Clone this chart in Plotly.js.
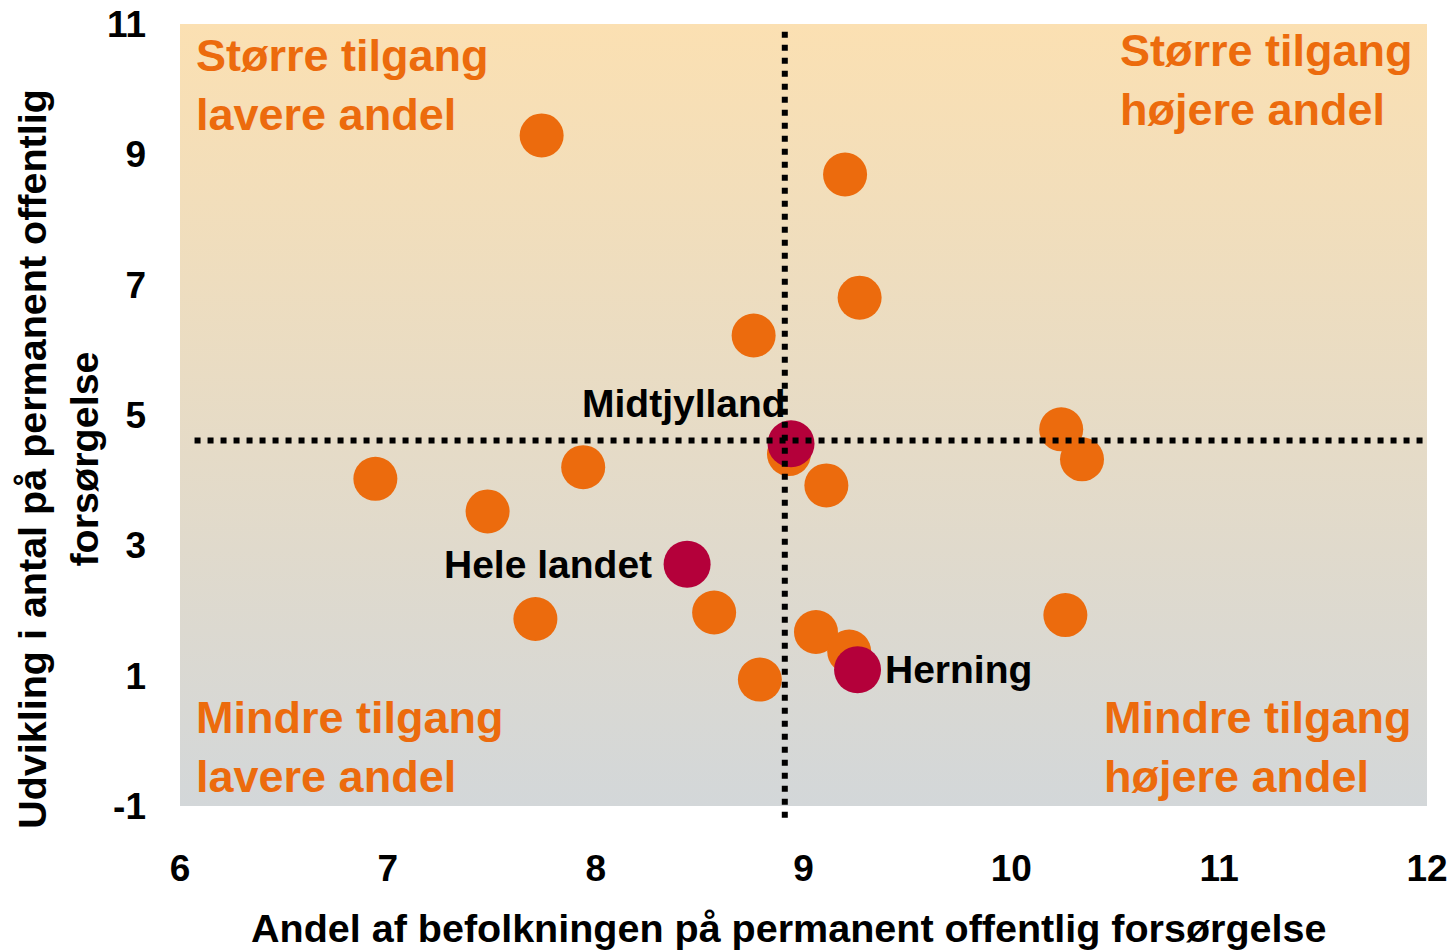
<!DOCTYPE html>
<html>
<head>
<meta charset="utf-8">
<script src="https://cdn.plot.ly/plotly-3.0.1.min.js"></script>
<style>html,body{margin:0;padding:0;background:#fff;}#chart{width:1453px;height:950px;}</style>
</head>
<body>
<div id="chart"></div>
<script>
// ---- data ----
var xRange = [6, 12];
var yRange = [-1, 11];
var xTicks = [6, 7, 8, 9, 10, 11, 12];
var xTickLabels = ["6", "7", "8", "9", "10", "11", "12"];
var yTicks = [-1, 1, 3, 5, 7, 9, 11];
var yTickLabels = ["-1", "1", "3", "5", "7", "9", "11"];

var municipalityX = [7.74, 9.20, 9.27, 8.76, 7.94, 8.93, 9.11, 10.24, 10.34, 6.94, 7.48, 8.57, 7.71, 9.06, 9.22, 8.79, 10.26];
var municipalityY = [9.29, 8.69, 6.80, 6.22, 4.20, 4.40, 3.92, 4.78, 4.32, 4.02, 3.52, 1.97, 1.87, 1.67, 1.37, 0.94, 1.93];

var highlightNames = ["Midtjylland", "Hele landet", "Herning"];
var highlightX = [8.94, 8.44, 9.26];
var highlightY = [4.56, 2.71, 1.09];

var refX = 8.91;   // vertical reference line (Midtjylland share)
var refY = 4.61;   // horizontal reference line (Midtjylland development)

var quadrantTexts = ["Større tilgang<br>lavere andel", "Større tilgang<br>højere andel",
                     "Mindre tilgang<br>lavere andel", "Mindre tilgang<br>højere andel"];

var xTitle = "Andel af befolkningen på permanent offentlig forsørgelse";
var yTitle = "Udvikling i antal på permanent offentlig<br>forsørgelse";

// ---- styles ----
var FONT = "Liberation Sans, Arial, Helvetica, sans-serif";
var ORANGE = "#EC6B0D";
var RED = "#B4003A";
var TOP_BG = "#FBE0B2";
var BOTTOM_BG = "#D3D7D9";

var traces = [
  {
    type: "scatter",
    x: [xRange[0], xRange[1], xRange[1], xRange[0], xRange[0]],
    y: [yRange[0], yRange[0], yRange[1], yRange[1], yRange[0]],
    mode: "none",
    fill: "toself",
    fillgradient: {type: "vertical", colorscale: [[0, BOTTOM_BG], [1, TOP_BG]]},
    hoverinfo: "skip",
    showlegend: false
  },
  {
    type: "scatter",
    x: municipalityX,
    y: municipalityY,
    mode: "markers",
    marker: {color: ORANGE, size: 44, line: {width: 0}},
    showlegend: false,
    cliponaxis: false
  },
  {
    type: "scatter",
    x: highlightX,
    y: highlightY,
    text: highlightNames,
    mode: "markers",
    marker: {color: RED, size: 47, line: {width: 0}},
    showlegend: false,
    cliponaxis: false
  }
];

var labelFont = {family: FONT, size: 39, color: "#000", weight: 700};
var quadFont = {family: FONT, size: 45, color: ORANGE, weight: 700};

var annotations = [
  {x: highlightX[0], y: highlightY[0], xref: "x", yref: "y", text: highlightNames[0], showarrow: false,
   xanchor: "right", yanchor: "middle", xshift: -4, yshift: 40, font: labelFont, borderpad: 0},
  {x: highlightX[1], y: highlightY[1], xref: "x", yref: "y", text: highlightNames[1], showarrow: false,
   xanchor: "right", yanchor: "middle", xshift: -34, yshift: 0, font: labelFont, borderpad: 0},
  {x: highlightX[2], y: highlightY[2], xref: "x", yref: "y", text: highlightNames[2], showarrow: false,
   xanchor: "left", yanchor: "middle", xshift: 26, yshift: 0, font: labelFont, borderpad: 0},

  {x: 0.012, y: 1, xref: "paper", yref: "paper", text: quadrantTexts[0], showarrow: false, align: "left",
   xanchor: "left", yanchor: "top", yshift: -5, font: quadFont, borderpad: 0},
  {x: 0.753, y: 1, xref: "paper", yref: "paper", text: quadrantTexts[1], showarrow: false, align: "left",
   xanchor: "left", yanchor: "top", yshift: 0, font: quadFont, borderpad: 0},
  {x: 0.012, y: 0, xref: "paper", yref: "paper", text: quadrantTexts[2], showarrow: false, align: "left",
   xanchor: "left", yanchor: "bottom", yshift: 3, font: quadFont, borderpad: 0},
  {x: 0.740, y: 0, xref: "paper", yref: "paper", text: quadrantTexts[3], showarrow: false, align: "left",
   xanchor: "left", yanchor: "bottom", yshift: 3, font: quadFont, borderpad: 0},

  {x: 0.4876, y: 0, xref: "paper", yref: "paper", text: xTitle, showarrow: false,
   xanchor: "center", yanchor: "middle", yshift: -122, font: {family: FONT, size: 39.5, color: "#000", weight: 700}},
  {x: 0, y: 0.444, xref: "paper", yref: "paper", text: yTitle, showarrow: false, textangle: -90,
   xanchor: "center", yanchor: "middle", xshift: -122, font: {family: FONT, size: 39.5, color: "#000", weight: 700}}
];

var dotLine = {color: "#000", width: 6, dash: "6px,7px"};
var shapes = [
  {type: "line", layer: "above", xref: "x", yref: "y", x0: xRange[0] + 0.07, x1: xRange[1], y0: refY, y1: refY, line: dotLine},
  {type: "line", layer: "above", xref: "x", yref: "paper", x0: refX, x1: refX, y0: -0.015, y1: 0.99, line: dotLine}
];

var layout = {
  width: 1453,
  height: 950,
  margin: {l: 180, r: 26, t: 24, b: 144, pad: 0},
  paper_bgcolor: "#fff",
  plot_bgcolor: "rgba(0,0,0,0)",
  showlegend: false,
  font: {family: FONT, color: "#000"},
  xaxis: {
    range: xRange, tickvals: xTicks, ticktext: xTickLabels, ticks: "", showgrid: false, zeroline: false, showline: false,
    tickfont: {family: FONT, size: 37, color: "#000", weight: 700}, ticklabelstandoff: 37, fixedrange: true
  },
  yaxis: {
    range: yRange, tickvals: yTicks, ticktext: yTickLabels, ticks: "", showgrid: false, zeroline: false, showline: false,
    tickfont: {family: FONT, size: 37, color: "#000", weight: 700}, ticklabelstandoff: 33, fixedrange: true
  },
  annotations: annotations,
  shapes: shapes
};

Plotly.newPlot("chart", traces, layout, {displayModeBar: false, staticPlot: true});
</script>
</body>
</html>
